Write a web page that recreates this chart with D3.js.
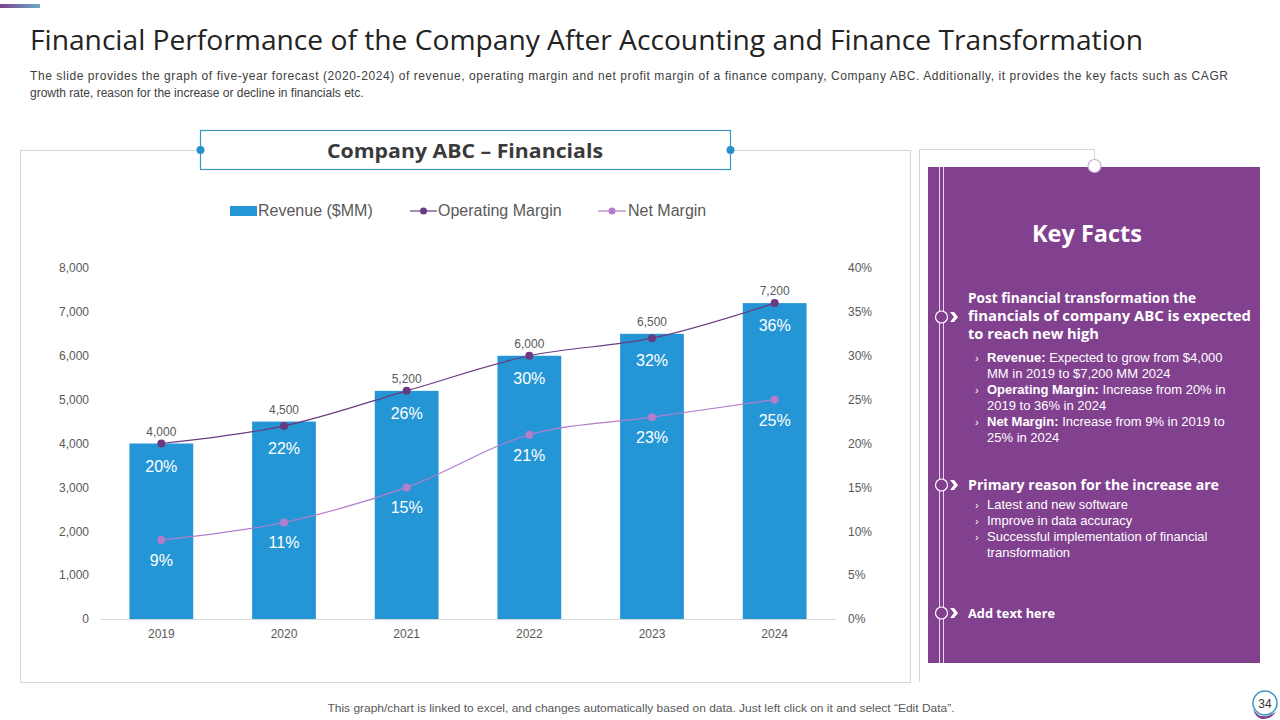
<!DOCTYPE html>
<html><head><meta charset="utf-8">
<script src="https://cdn.jsdelivr.net/npm/d3@7"></script>
<style>
html,body{margin:0;padding:0;background:#fff;}
svg{display:block;}
</style></head>
<body>
<svg id="c" width="1280" height="720"></svg>
<script>
const years = ["2019","2020","2021","2022","2023","2024"];
const revenue = [4000,4500,5200,6000,6500,7200];
const operatingMargin = [20,22,26,30,32,36];
const netMargin = [9,11,15,21,23,25];
const leftTicks = [0,1000,2000,3000,4000,5000,6000,7000,8000];
const rightTicks = [0,5,10,15,20,25,30,35,40];
const seriesNames = ["Revenue ($MM)","Operating Margin","Net Margin"];

const svg = d3.select("#c");
const BLUE = "#2596d5", OM = "#6a3a80", NM = "#b37dcc", PURPLE = "#82418f", GRAY = "#595959";
const AR = "'Liberation Sans', Arial, sans-serif";

// top accent bar
const defs = svg.append("defs");
const g1 = defs.append("linearGradient").attr("id","acc");
g1.append("stop").attr("offset","0%").attr("stop-color","#7d3f8f");
g1.append("stop").attr("offset","100%").attr("stop-color","#68aec4");
svg.append("rect").attr("x",0).attr("y",4).attr("width",40).attr("height",4).attr("fill","url(#acc)");

// main title
svg.append("text").attr("x",30).attr("y",50).attr("font-family","'Open Sans', sans-serif")
  .attr("font-size",27).attr("fill","#222").attr("textLength",1113).attr("lengthAdjust","spacingAndGlyphs")
  .text("Financial Performance of the Company After Accounting and Finance Transformation");
svg.append("text").attr("x",30).attr("y",80).attr("font-family",AR).attr("font-size",12).attr("fill","#404040")
  .attr("textLength",1198).attr("lengthAdjust","spacing")
  .text("The slide provides the graph of five-year forecast (2020-2024) of revenue, operating margin and net profit margin of a finance company, Company ABC. Additionally, it provides the key facts such as CAGR");
svg.append("text").attr("x",30).attr("y",97).attr("font-family",AR).attr("font-size",12).attr("fill","#404040")
  .text("growth rate, reason for the increase or decline in financials etc.");

// chart frame
svg.append("rect").attr("x",20.5).attr("y",150.5).attr("width",890).attr("height",532)
  .attr("fill","none").attr("stroke","#d6d6d6").attr("stroke-width",1);
// title box
svg.append("rect").attr("x",200.5).attr("y",130.5).attr("width",530).attr("height",39)
  .attr("fill","#fff").attr("stroke","#3b98be").attr("stroke-width",1.2);
[200.5,730.5].forEach(x=>svg.append("circle").attr("cx",x).attr("cy",150).attr("r",4).attr("fill","#2a90cc"));
svg.append("text").attr("x",465).attr("y",158).attr("text-anchor","middle").attr("font-family","'Open Sans', sans-serif")
  .attr("font-weight",700).attr("font-size",20).attr("fill","#3a3a3a").attr("textLength",276).attr("lengthAdjust","spacingAndGlyphs")
  .text("Company ABC – Financials");

// scales
const x = d3.scaleBand().domain(years).range([100,836]).paddingInner(0.48).paddingOuter(0.24);
const yL = d3.scaleLinear().domain([0,8000]).range([619,268]);
const yR = d3.scaleLinear().domain([0,40]).range([619,268]);
const cx = d => x(d) + x.bandwidth()/2;

// axes
const axL = svg.append("g").attr("transform","translate(100,0)")
  .call(d3.axisLeft(yL).tickValues(leftTicks).tickFormat(d3.format(",")).tickSize(0).tickPadding(11));
axL.select(".domain").remove();
const axR = svg.append("g").attr("transform","translate(836,0)")
  .call(d3.axisRight(yR).tickValues(rightTicks).tickFormat(d=>d+"%").tickSize(0).tickPadding(12));
axR.select(".domain").remove();
const axB = svg.append("g").attr("transform","translate(0,619)")
  .call(d3.axisBottom(x).tickSize(0).tickPadding(10));
axB.select(".domain").attr("stroke","#d9d9d9");
svg.selectAll(".tick text").attr("font-family",AR).attr("font-size",12).attr("fill",GRAY);

// bars
svg.append("g").selectAll("rect").data(years).join("rect")
  .attr("x",d=>x(d)).attr("width",x.bandwidth())
  .attr("y",(d,i)=>yL(revenue[i])).attr("height",(d,i)=>619-yL(revenue[i]))
  .attr("fill",BLUE);
svg.append("g").selectAll("text").data(years).join("text")
  .attr("x",d=>cx(d)).attr("y",(d,i)=>yL(revenue[i])-8).attr("text-anchor","middle")
  .attr("font-family",AR).attr("font-size",12).attr("fill",GRAY)
  .text((d,i)=>d3.format(",")(revenue[i]));

// lines
function series(vals,color,width,off){
  const line = d3.line().x((d,i)=>cx(years[i])).y(d=>yR(d)).curve(d3.curveCatmullRom.alpha(0.5));
  svg.append("path").attr("d",line(vals)).attr("fill","none").attr("stroke",color).attr("stroke-width",width);
  svg.append("g").selectAll("circle").data(vals).join("circle")
    .attr("cx",(d,i)=>cx(years[i])).attr("cy",d=>yR(d)).attr("r",4).attr("fill",color);
  svg.append("g").selectAll("text").data(vals).join("text")
    .attr("x",(d,i)=>cx(years[i])).attr("y",d=>yR(d)+off).attr("text-anchor","middle")
    .attr("font-family",AR).attr("font-size",16).attr("fill","#fff")
    .text(d=>d+"%");
}
series(netMargin,NM,1.2,26);
series(operatingMargin,OM,1.2,28);

// legend
const lg = svg.append("g").attr("font-family",AR).attr("font-size",16).attr("fill",GRAY);
lg.append("rect").attr("x",230).attr("y",206).attr("width",27).attr("height",10).attr("fill",BLUE);
lg.append("text").attr("x",258).attr("y",216).text(seriesNames[0]);
lg.append("line").attr("x1",410).attr("x2",437).attr("y1",211).attr("y2",211).attr("stroke",OM).attr("stroke-width",1.2);
lg.append("circle").attr("cx",423.5).attr("cy",211).attr("r",3.5).attr("fill",OM);
lg.append("text").attr("x",438).attr("y",216).text(seriesNames[1]);
lg.append("line").attr("x1",598).attr("x2",626).attr("y1",211).attr("y2",211).attr("stroke",NM).attr("stroke-width",1.2);
lg.append("circle").attr("cx",612).attr("cy",211).attr("r",3.5).attr("fill",NM);
lg.append("text").attr("x",628).attr("y",216).text(seriesNames[2]);

// right panel frame
svg.append("path").attr("d","M919.5,682 V149.5 H1094.5 V160").attr("fill","none").attr("stroke","#d6d6d6");
svg.append("rect").attr("x",928).attr("y",167).attr("width",332).attr("height",496).attr("fill",PURPLE);
svg.append("circle").attr("cx",1094.5).attr("cy",166).attr("r",6.5).attr("fill","#fff").attr("stroke","#c9a9d4").attr("stroke-width",1.2);
[939.5,943.5].forEach(xx=>svg.append("line").attr("x1",xx).attr("x2",xx).attr("y1",167).attr("y2",663)
  .attr("stroke","#e6d2ee").attr("stroke-width",1));
svg.append("text").attr("x",1087).attr("y",242).attr("text-anchor","middle").attr("font-family","'Open Sans', sans-serif")
  .attr("font-weight",700).attr("font-size",24).attr("fill","#fff").attr("textLength",110).attr("lengthAdjust","spacingAndGlyphs")
  .text("Key Facts");

function marker(y){
  svg.append("circle").attr("cx",941.5).attr("cy",y).attr("r",6).attr("fill",PURPLE).attr("stroke","#fff").attr("stroke-width",1.2);
  svg.append("path").attr("d",`M950,${y-5} L954,${y-5} L958,${y} L954,${y+5} L950,${y+5} L954,${y} Z`).attr("fill","#fff");
}
marker(317); marker(485); marker(613);

const HB = "'Open Sans', sans-serif";
function head(lines,widths,y0,size){
  lines.forEach((t,i)=>svg.append("text").attr("x",968).attr("y",y0+i*18).attr("font-family",HB).attr("font-weight",700)
    .attr("font-size",size).attr("fill","#fff").attr("textLength",widths[i]).attr("lengthAdjust","spacingAndGlyphs").text(t));
}
head(["Post financial transformation the","financials of company ABC is expected","to reach new high"],[228,283,131],303,14);
head(["Primary reason for the increase are"],[251],490,14);
head(["Add text here"],[87],618,13);

function bullets(items,y0){
  items.forEach((it,i)=>{
    const y = y0 + i*16;
    if(it.b!==undefined) svg.append("text").attr("x",975).attr("y",y).attr("font-family",AR).attr("font-size",11).attr("fill","#fff").text("›");
    const t = svg.append("text").attr("x",987).attr("y",y).attr("font-family",AR).attr("font-size",13).attr("fill","#fff");
    if(it.b) t.append("tspan").attr("font-weight",700).text(it.b+" ");
    t.append("tspan").text(it.t);
  });
}
bullets([
  {b:"Revenue:",t:"Expected to grow from $4,000"},
  {t:"MM in 2019 to $7,200 MM 2024"},
  {b:"Operating Margin:",t:"Increase from 20% in"},
  {t:"2019 to 36% in 2024"},
  {b:"Net Margin:",t:"Increase from 9% in 2019 to"},
  {t:"25% in 2024"}
],362);
bullets([
  {b:"",t:"Latest and new software"},
  {b:"",t:"Improve  in data accuracy"},
  {b:"",t:"Successful implementation of financial"},
  {t:"transformation"}
],509);

// footer
svg.append("text").attr("x",641).attr("y",712).attr("text-anchor","middle")
  .attr("font-family","'Liberation Sans Narrow', 'Liberation Sans', sans-serif").attr("font-size",11).attr("fill",GRAY)
  .attr("textLength",627).attr("lengthAdjust","spacingAndGlyphs")
  .text("This graph/chart is linked to excel, and changes automatically based on data. Just left click on it and select “Edit Data”.");
// page number
svg.append("circle").attr("cx",1265).attr("cy",703).attr("r",12).attr("fill","#fff").attr("stroke","#3b98be").attr("stroke-width",1.5);
svg.append("path").attr("d","M1253,709 Q1258,718 1268,716 L1276,712 Q1270,720 1262,719 Q1255,717 1253,709 Z").attr("fill","#7d3f8f");
svg.append("text").attr("x",1265).attr("y",708).attr("text-anchor","middle").attr("font-family",AR).attr("font-size",12).attr("fill","#333").text("34");
</script>
</body></html>
